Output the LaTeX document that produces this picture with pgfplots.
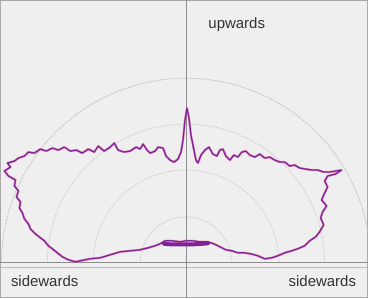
\documentclass[border=0pt]{standalone}
\usepackage{pgfplots}
\pgfplotsset{compat=1.18}
\usepackage{fontspec}
\setmainfont{Liberation Sans}
\definecolor{bg}{RGB}{239,239,239}
\definecolor{frame}{RGB}{168,168,168}
\definecolor{axl}{RGB}{140,140,140}
\definecolor{circ}{RGB}{205,205,205}
\definecolor{curve}{RGB}{125,35,150}
\definecolor{fringe}{RGB}{225,90,160}
\begin{document}
\begin{tikzpicture}
\begin{axis}[
  x=1pt, y=1pt, scale only axis,
  xmin=-186, xmax=182, ymin=-35, ymax=263,
  axis line style={draw=frame, line width=1pt},
  axis background/.style={fill=bg},
  ticks=none,
  clip=true,
]
% grid semicircles
\draw[circ, line width=0.7pt, dash pattern=on 2pt off 1pt] (axis cs:46,0) arc[start angle=0, end angle=180, radius=46pt];
\draw[circ, line width=0.7pt, dash pattern=on 2pt off 1pt] (axis cs:93,0) arc[start angle=0, end angle=180, radius=93pt];
\draw[circ, line width=0.7pt, dash pattern=on 2pt off 1pt] (axis cs:139,0) arc[start angle=0, end angle=180, radius=139pt];
\draw[circ!95!black, line width=0.8pt, dash pattern=on 2pt off 1pt] (axis cs:185,0) arc[start angle=0, end angle=180, radius=185pt];
\draw[axl, line width=0.7pt] (axis cs:-186,0) -- (axis cs:182,0);
\draw[axl!60, line width=0.5pt] (axis cs:-186,-4) -- (axis cs:182,-4);
\draw[axl, line width=0.7pt] (axis cs:0,-35) -- (axis cs:0,263);
\addplot[fringe, opacity=0.55, line width=2.4pt, line join=round] coordinates {
(0,22)(-6,21)(-14,22)(-21,22)(-26,19)(-31,17)(-38,15)(-46,13)(-56,12)(-66,11)(-76,8)(-86,5)(-96,4)(-106,2)(-111,1)(-118,3)(-124,6)(-129,10)(-134,14)(-138,17)(-142,22)(-146,25)(-151,29)(-156,34)(-158,39)(-162,44)(-164,50)(-167,55)(-166,61)(-170,66)(-168,72)(-172,77)(-171,83)(-178,87)(-182,92)(-176,96)(-179,100)(-172,102)(-168,105)(-162,107)(-158,111)(-152,110)(-146,114)(-140,112)(-134,115)(-128,113)(-122,116)(-116,112)(-110,113)(-104,110)(-98,114)(-92,111)(-88,117)(-82,112)(-76,116)(-72,120)(-68,113)(-62,111)(-56,112)(-50,116)(-46,114)(-43,119)(-39,113)(-36,110)(-31,112)(-28,116)(-23,115)(-20,107)(-16,103)(-12,101)(-8,104)(-5,111)(-3,123)(-1,143)(1,155)(3,145)(5,128)(7,118)(10,103)(12,100)(15,108)(19,113)(23,116)(27,109)(31,107)(34,113)(37,114)(40,107)(44,103)(48,108)(52,106)(56,111)(60,112)(64,108)(69,106)(74,109)(79,105)(84,106)(89,103)(94,101)(99,101)(104,97)(109,98)(114,95)(120,94)(126,93)(132,93)(138,91)(144,91)(150,92)(156,93)(150,89)(142,87)(139,82)(142,76)(139,70)(136,63)(141,57)(137,51)(135,45)(138,38)(134,31)(130,26)(124,22)(119,17)(112,14)(106,12)(99,10)(92,7)(86,5)(79,4)(72,7)(65,9)(58,10)(52,10)(46,12)(40,13)(34,16)(28,19)(22,21)(14,21)(7,22)(0,22)
};
\addplot[curve, line width=1.3pt, line join=round] coordinates {
(0,22)(-6,21)(-14,22)(-21,22)(-26,19)(-31,17)(-38,15)(-46,13)(-56,12)(-66,11)(-76,8)(-86,5)(-96,4)(-106,2)(-111,1)(-118,3)(-124,6)(-129,10)(-134,14)(-138,17)(-142,22)(-146,25)(-151,29)(-156,34)(-158,39)(-162,44)(-164,50)(-167,55)(-166,61)(-170,66)(-168,72)(-172,77)(-171,83)(-178,87)(-182,92)(-176,96)(-179,100)(-172,102)(-168,105)(-162,107)(-158,111)(-152,110)(-146,114)(-140,112)(-134,115)(-128,113)(-122,116)(-116,112)(-110,113)(-104,110)(-98,114)(-92,111)(-88,117)(-82,112)(-76,116)(-72,120)(-68,113)(-62,111)(-56,112)(-50,116)(-46,114)(-43,119)(-39,113)(-36,110)(-31,112)(-28,116)(-23,115)(-20,107)(-16,103)(-12,101)(-8,104)(-5,111)(-3,123)(-1,143)(1,155)(3,145)(5,128)(7,118)(10,103)(12,100)(15,108)(19,113)(23,116)(27,109)(31,107)(34,113)(37,114)(40,107)(44,103)(48,108)(52,106)(56,111)(60,112)(64,108)(69,106)(74,109)(79,105)(84,106)(89,103)(94,101)(99,101)(104,97)(109,98)(114,95)(120,94)(126,93)(132,93)(138,91)(144,91)(150,92)(156,93)(150,89)(142,87)(139,82)(142,76)(139,70)(136,63)(141,57)(137,51)(135,45)(138,38)(134,31)(130,26)(124,22)(119,17)(112,14)(106,12)(99,10)(92,7)(86,5)(79,4)(72,7)(65,9)(58,10)(52,10)(46,12)(40,13)(34,16)(28,19)(22,21)(14,21)(7,22)(0,22)
};
\addplot[curve, line width=4pt, line join=round, line cap=round] coordinates {
(-22,19)(-16,18.5)(-8,18.5)(0,18.5)(8,18.5)(16,19)(22,19.5)
};
\node[anchor=base west, font=\fontsize{15}{15}\selectfont, text=black!80] at (axis cs:19,235) {upwards};
\node[anchor=base west, font=\fontsize{15}{15}\selectfont, text=black!80] at (axis cs:-179,-24) {sidewards};
\node[anchor=base east, font=\fontsize{15}{15}\selectfont, text=black!80] at (axis cs:174,-24) {sidewards};
\end{axis}
\end{tikzpicture}
\end{document}
